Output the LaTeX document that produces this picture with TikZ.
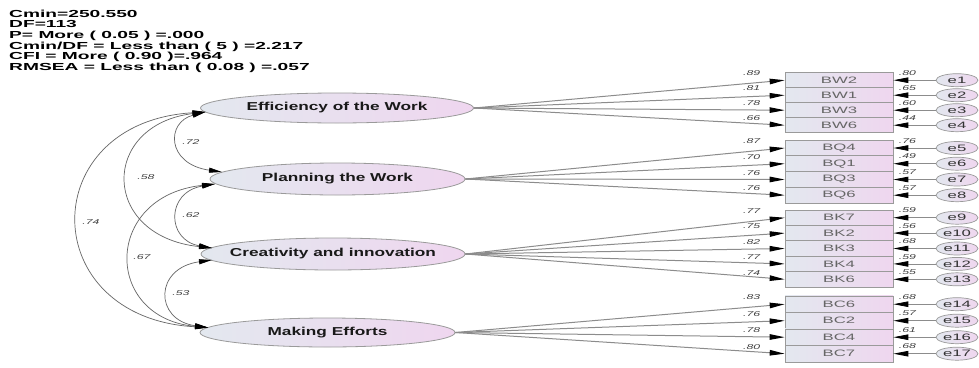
\documentclass[tikz,border=0pt]{standalone}
\usepackage{fontspec}
\usetikzlibrary{arrows.meta,shapes.geometric,calc}
\setmainfont{Liberation Sans}
\newfontfamily\hdrfont[FakeStretch=1.88]{Liberation Sans}
\newfontfamily\latfont[FakeStretch=1.5]{Liberation Sans}
\newfontfamily\boxfont[FakeStretch=1.8]{Liberation Sans}
\newfontfamily\numfont[FakeStretch=1.75]{Liberation Sans}
\definecolor{gL}{HTML}{E3E8EF}
\definecolor{gR}{HTML}{EFD6EF}
\definecolor{edgeg}{HTML}{9A9A9A}
\definecolor{lineg}{HTML}{8C8C8C}
\tikzset{
  latent/.style={ellipse, draw=edgeg, line width=0.8pt, left color=gL, right color=gR, inner sep=0pt,
    font=\latfont\bfseries\fontsize{11.5}{12}\selectfont, text=black!90},
  obs/.style={rectangle, draw=edgeg, line width=0.7pt, left color=gL, right color=gR, minimum width=108pt,
    inner sep=0pt, font=\boxfont\fontsize{9.3}{10}\selectfont, text=black!60},
  err/.style={ellipse, draw=edgeg, line width=0.7pt, left color=gL, right color=gR, minimum width=42pt,
    minimum height=13pt, inner sep=0pt, font=\boxfont\fontsize{9.3}{10}\selectfont, text=black!80},
  load/.style={draw=lineg, line width=1pt, -{Triangle[length=15pt,width=5.5pt,color=black]}},
  errarrow/.style={draw=lineg, line width=0.8pt, -{Triangle[length=15pt,width=5.5pt,color=black]}},
  cov/.style={draw=black!60, line width=0.7pt,
    {Triangle[length=13pt,width=5pt,color=black]}-{Triangle[length=13pt,width=5pt,color=black]}},
  num/.style={font=\numfont\itshape\fontsize{7}{8}\selectfont, text=black!75, inner sep=0.5pt},
  hdr/.style={anchor=north west, align=left, inner sep=0pt, font=\hdrfont\bfseries\fontsize{10.2}{10.4}\selectfont}
}
\newcommand{\zw}[1]{\makebox[0pt][c]{#1}}
\begin{document}
\begin{tikzpicture}[x=1pt,y=-1pt]
\useasboundingbox[fill=white] (0,0) rectangle (979,367);

% header
\node[hdr] (stats) at (9,9.5) {Cmin=250.550\\[0.3pt]DF=113\\[0.3pt]P= More ( 0.05 ) =.000\\[0.3pt]Cmin/DF = Less than ( 5 ) =2.217\\[0.3pt]CFI = More ( 0.90 )=.964\\[0.3pt]RMSEA = Less than ( 0.08 ) =.057};

% latent variables
\node[latent, minimum width=273pt, minimum height=30pt] (eff) at (337,108) {\zw{Efficiency of the Work}};
\node[latent, minimum width=255pt, minimum height=32pt] (pln) at (337.5,179) {\zw{Planning the Work}};
\node[latent, minimum width=264pt, minimum height=32pt] (crt) at (333,254) {\zw{Creativity and innovation}};
\node[latent, minimum width=255pt, minimum height=29pt] (mk) at (327.5,332.5) {\zw{Making Efforts}};

% observed boxes
\foreach \n/\t/\y/\h in {bw2/BW2/80.2/15, bw1/BW1/95.2/15, bw3/BW3/110.2/15, bw6/BW6/125.2/15,
  bq4/BQ4/148/15.75, bq1/BQ1/163.7/15.75, bq3/BQ3/179.5/15.75, bq6/BQ6/195.2/15.75,
  bk7/BK7/217.7/15.4, bk2/BK2/233.1/15.4, bk3/BK3/248.5/15.4, bk4/BK4/263.9/15.4, bk6/BK6/279.3/15.4,
  bc6/BC6/304.2/16.5, bc2/BC2/320.7/16.5, bc4/BC4/337.2/16.5, bc7/BC7/353.7/16.5}
  {\node[obs, minimum height=\h pt] (\n) at (839,\y) {\t};}

% error terms
\foreach \e/\b/\y in {1/bw2/80.2, 2/bw1/95.2, 3/bw3/110.2, 4/bw6/125.2,
  5/bq4/148, 6/bq1/163.7, 7/bq3/179.5, 8/bq6/195.2,
  9/bk7/217.7, 10/bk2/233.1, 11/bk3/248.5, 12/bk4/263.9, 13/bk6/279.3,
  14/bc6/304.2, 15/bc2/320.7, 16/bc4/337.2, 17/bc7/353.7}
  {\node[err] (e\e) at (957,\y) {\zw{e\e}};
   \draw[errarrow] (e\e.west) -- (\b.east);}

% error weights
\foreach \b/\v in {bw2/.80, bw1/.65, bw3/.60, bw6/.44, bq4/.76, bq1/.49, bq3/.57, bq6/.57,
  bk7/.59, bk2/.56, bk3/.68, bk4/.59, bk6/.55, bc6/.68, bc2/.57, bc4/.61, bc7/.68}
  {\node[num, anchor=south] at ($(\b.east)+(14,-4)$) {\v};}

% loadings
\foreach \lat/\b/\v in {eff/bw2/.89, eff/bw1/.81, eff/bw3/.78, eff/bw6/.66,
  pln/bq4/.87, pln/bq1/.70, pln/bq3/.76, pln/bq6/.76,
  crt/bk7/.77, crt/bk2/.75, crt/bk3/.82, crt/bk4/.77, crt/bk6/.74,
  mk/bc6/.83, mk/bc2/.76, mk/bc4/.78, mk/bc7/.80}
  {\draw[load] (\lat.east) -- (\b.west);
   \node[num, anchor=south] at ($(\b.west)+(-33,-3.5)$) {\v};}

% covariance end points
\coordinate (effC) at (205.5,112);
\coordinate (plnA) at (222,172);
\coordinate (plnB) at (215,184);
\coordinate (crtA) at (212,248);
\coordinate (crtB) at (212,260);
\coordinate (mkA) at (208,327.5);

\draw[cov] (effC) .. controls (166,122) and (166,164) .. (plnA);
\draw[cov] (effC) .. controls (100,125) and (100,236) .. (crtA);
\draw[cov] (effC) .. controls (35,122) and (35,318) .. (mkA);
\draw[cov] (plnB) .. controls (166,192) and (166,240) .. (crtA);
\draw[cov] (plnB) .. controls (103,196) and (103,318) .. (mkA);
\draw[cov] (crtB) .. controls (154,268) and (154,320) .. (mkA);

\node[num] (c72) at (191,142) {.72};
\node[num] (c58) at (146,177) {.58};
\node[num] (c74) at (91,222) {.74};
\node[num] (c62) at (191,215) {.62};
\node[num] (c67) at (142,257) {.67};
\node[num] (c53) at (181,293) {.53};
\end{tikzpicture}
\end{document}
